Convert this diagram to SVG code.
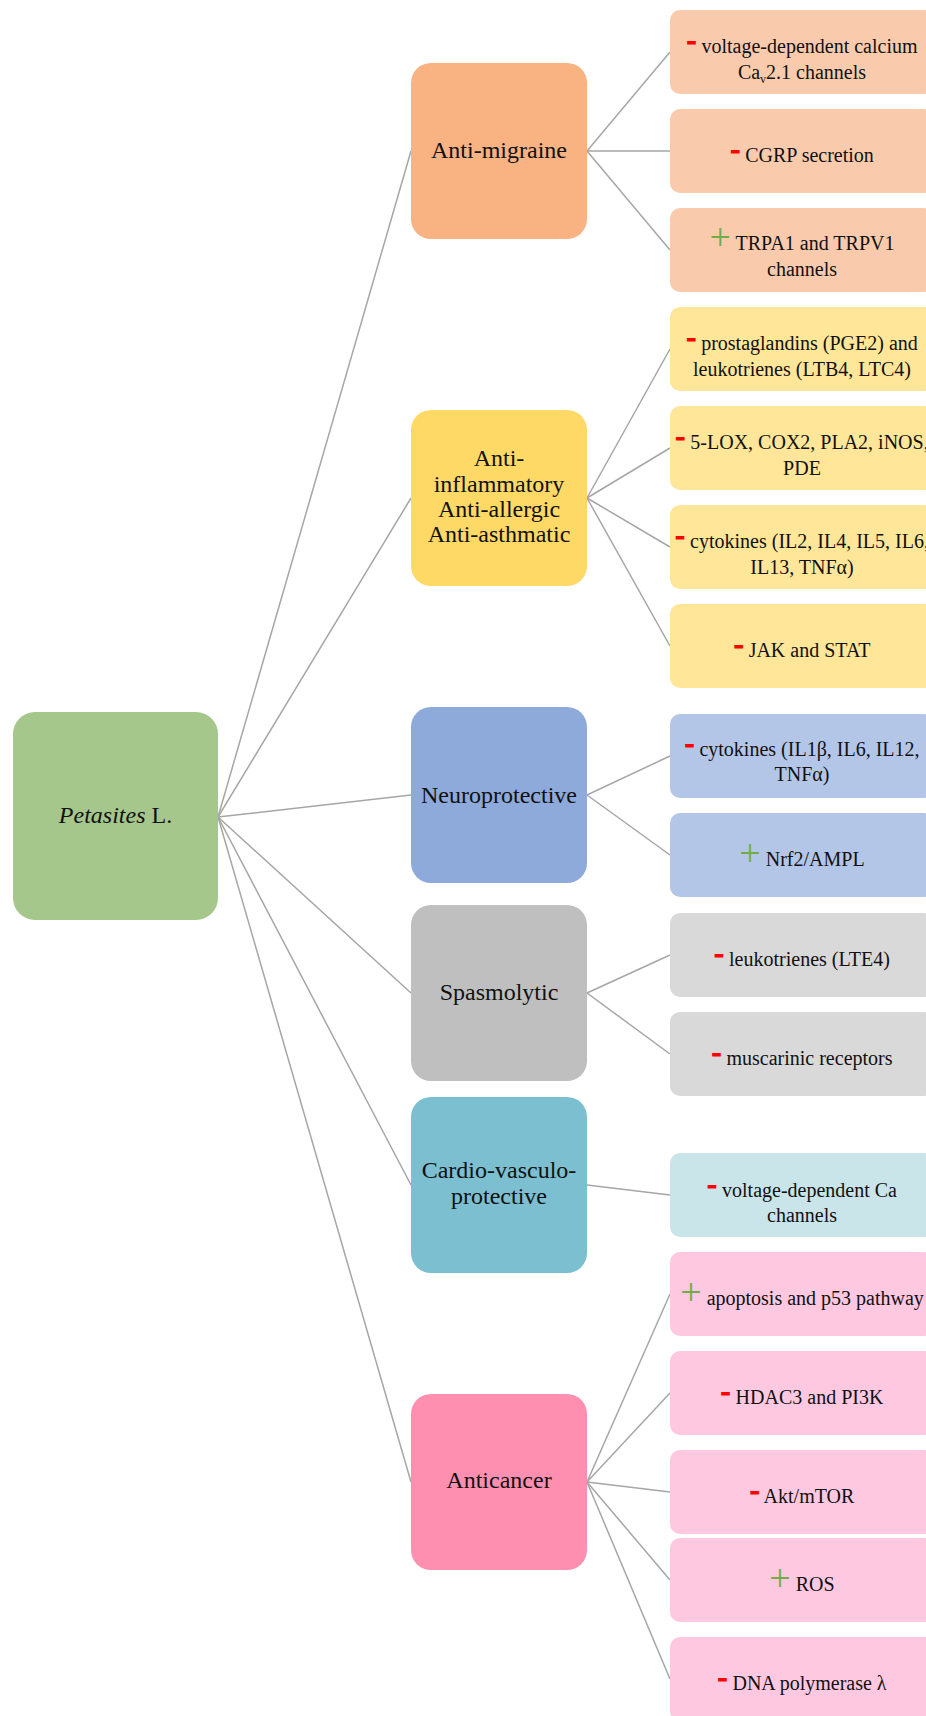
<svg xmlns="http://www.w3.org/2000/svg" width="926" height="1716" viewBox="0 0 926 1716">
<style>
.t{font-family:"Liberation Serif","Times New Roman",serif;fill:#111;}
.big{font-size:24px;text-anchor:middle;}
.lf{font-size:20px;text-anchor:middle;}
.mn{fill:#ff0000;font-weight:bold;font-size:30px;stroke:#ff0000;stroke-width:0.8;}
.pl{fill:#70ad47;font-size:38px;}
.c line{stroke:#a6a6a6;stroke-width:1.5;}
</style>
<rect width="926" height="1716" fill="#ffffff"/>
<g class="c" id="connectors">
<line x1="218" y1="817" x2="411" y2="151"/>
<line x1="218" y1="817" x2="411" y2="498"/>
<line x1="218" y1="817" x2="411" y2="795"/>
<line x1="218" y1="817" x2="411" y2="993"/>
<line x1="218" y1="817" x2="411" y2="1185"/>
<line x1="218" y1="817" x2="411" y2="1482"/>
<line x1="587" y1="151" x2="670" y2="52"/>
<line x1="587" y1="151" x2="670" y2="151"/>
<line x1="587" y1="151" x2="670" y2="250"/>
<line x1="587" y1="498" x2="670" y2="349"/>
<line x1="587" y1="498" x2="670" y2="448"/>
<line x1="587" y1="498" x2="670" y2="547"/>
<line x1="587" y1="498" x2="670" y2="646"/>
<line x1="587" y1="795" x2="670" y2="756"/>
<line x1="587" y1="795" x2="670" y2="855"/>
<line x1="587" y1="993" x2="670" y2="955"/>
<line x1="587" y1="993" x2="670" y2="1054"/>
<line x1="587" y1="1185" x2="670" y2="1195"/>
<line x1="587" y1="1482" x2="670" y2="1294"/>
<line x1="587" y1="1482" x2="670" y2="1393"/>
<line x1="587" y1="1482" x2="670" y2="1492"/>
<line x1="587" y1="1482" x2="670" y2="1580"/>
<line x1="587" y1="1482" x2="670" y2="1679"/>
</g>
<g id="petasites">
<rect x="13" y="712" width="205" height="208" rx="22" fill="#a5c78b"/>
<text class="t big" x="115.5" y="823"><tspan font-style="italic">Petasites</tspan> L.</text>
</g>
<g id="anti-migraine">
<rect x="411" y="63" width="176" height="176" rx="20" fill="#f9b282"/>
<text class="t big" x="499" y="158">Anti-migraine</text>
</g>
<g id="m1">
<rect x="670" y="10" width="264" height="84" rx="10" fill="#f9cbac"/>
<text class="t lf" x="802" y="53"><tspan class="mn" dy="-3">-</tspan><tspan dy="3"> voltage-dependent calcium</tspan></text>
<text class="t lf" x="802" y="79">Ca<tspan font-size="12" dy="4">v</tspan><tspan dy="-4">2.1 channels</tspan></text>
</g>
<g id="m2">
<rect x="670" y="109" width="264" height="84" rx="10" fill="#f9cbac"/>
<text class="t lf" x="802" y="162"><tspan class="mn" dy="-3">-</tspan><tspan dy="3"> CGRP secretion</tspan></text>
</g>
<g id="m3">
<rect x="670" y="208" width="264" height="84" rx="10" fill="#f9cbac"/>
<text class="t lf" x="802" y="250"><tspan class="pl">+</tspan> TRPA1 and TRPV1</text>
<text class="t lf" x="802" y="276">channels</text>
</g>
<g id="anti-inflammatory">
<rect x="411" y="410" width="176" height="176" rx="20" fill="#ffd966"/>
<text class="t big" x="499" y="466">Anti-</text>
<text class="t big" x="499" y="492">inflammatory</text>
<text class="t big" x="499" y="517">Anti-allergic</text>
<text class="t big" x="499" y="542">Anti-asthmatic</text>
</g>
<g id="i1">
<rect x="670" y="307" width="264" height="84" rx="10" fill="#ffe699"/>
<text class="t lf" x="802" y="350"><tspan class="mn" dy="-3">-</tspan><tspan dy="3"> prostaglandins (PGE2) and</tspan></text>
<text class="t lf" x="802" y="376">leukotrienes (LTB4, LTC4)</text>
</g>
<g id="i2">
<rect x="670" y="406" width="264" height="84" rx="10" fill="#ffe699"/>
<text class="t lf" x="802" y="449"><tspan class="mn" dy="-3">-</tspan><tspan dy="3"> 5-LOX, COX2, PLA2, iNOS,</tspan></text>
<text class="t lf" x="802" y="475">PDE</text>
</g>
<g id="i3">
<rect x="670" y="505" width="264" height="84" rx="10" fill="#ffe699"/>
<text class="t lf" x="802" y="548"><tspan class="mn" dy="-3">-</tspan><tspan dy="3"> cytokines (IL2, IL4, IL5, IL6,</tspan></text>
<text class="t lf" x="802" y="574">IL13, TNFα)</text>
</g>
<g id="i4">
<rect x="670" y="604" width="264" height="84" rx="10" fill="#ffe699"/>
<text class="t lf" x="802" y="657"><tspan class="mn" dy="-3">-</tspan><tspan dy="3"> JAK and STAT</tspan></text>
</g>
<g id="neuroprotective">
<rect x="411" y="707" width="176" height="176" rx="20" fill="#8eaadb"/>
<text class="t big" x="499" y="803">Neuroprotective</text>
</g>
<g id="n1">
<rect x="670" y="714" width="264" height="84" rx="10" fill="#b4c6e7"/>
<text class="t lf" x="802" y="756"><tspan class="mn" dy="-3">-</tspan><tspan dy="3"> cytokines (IL1β, IL6, IL12,</tspan></text>
<text class="t lf" x="802" y="781">TNFα)</text>
</g>
<g id="n2">
<rect x="670" y="813" width="264" height="84" rx="10" fill="#b4c6e7"/>
<text class="t lf" x="802" y="866"><tspan class="pl">+</tspan> Nrf2/AMPL</text>
</g>
<g id="spasmolytic">
<rect x="411" y="905" width="176" height="176" rx="20" fill="#bfbfbf"/>
<text class="t big" x="499" y="1000">Spasmolytic</text>
</g>
<g id="s1">
<rect x="670" y="913" width="264" height="84" rx="10" fill="#d9d9d9"/>
<text class="t lf" x="802" y="966"><tspan class="mn" dy="-3">-</tspan><tspan dy="3"> leukotrienes (LTE4)</tspan></text>
</g>
<g id="s2">
<rect x="670" y="1012" width="264" height="84" rx="10" fill="#d9d9d9"/>
<text class="t lf" x="802" y="1065"><tspan class="mn" dy="-3">-</tspan><tspan dy="3"> muscarinic receptors</tspan></text>
</g>
<g id="cardio">
<rect x="411" y="1097" width="176" height="176" rx="20" fill="#7bbfd1"/>
<text class="t big" x="499" y="1178">Cardio-vasculo-</text>
<text class="t big" x="499" y="1204">protective</text>
</g>
<g id="c1">
<rect x="670" y="1153" width="264" height="84" rx="10" fill="#c9e5ea"/>
<text class="t lf" x="802" y="1197"><tspan class="mn" dy="-3">-</tspan><tspan dy="3"> voltage-dependent Ca</tspan></text>
<text class="t lf" x="802" y="1222">channels</text>
</g>
<g id="anticancer">
<rect x="411" y="1394" width="176" height="176" rx="20" fill="#fe8fb0"/>
<text class="t big" x="499" y="1488">Anticancer</text>
</g>
<g id="a1">
<rect x="670" y="1252" width="264" height="84" rx="10" fill="#fec8e1"/>
<text class="t lf" x="802" y="1305"><tspan class="pl">+</tspan> apoptosis and p53 pathway</text>
</g>
<g id="a2">
<rect x="670" y="1351" width="264" height="84" rx="10" fill="#fec8e1"/>
<text class="t lf" x="802" y="1404"><tspan class="mn" dy="-3">-</tspan><tspan dy="3"> HDAC3 and PI3K</tspan></text>
</g>
<g id="a3">
<rect x="670" y="1450" width="264" height="84" rx="10" fill="#fec8e1"/>
<text class="t lf" x="802" y="1503"><tspan class="mn" dy="-3">-</tspan><tspan dy="3"> Akt/mTOR</tspan></text>
</g>
<g id="a4">
<rect x="670" y="1538" width="264" height="84" rx="10" fill="#fec8e1"/>
<text class="t lf" x="802" y="1591"><tspan class="pl">+</tspan> ROS</text>
</g>
<g id="a5">
<rect x="670" y="1637" width="264" height="84" rx="10" fill="#fec8e1"/>
<text class="t lf" x="802" y="1690"><tspan class="mn" dy="-3">-</tspan><tspan dy="3"> DNA polymerase λ</tspan></text>
</g>
</svg>
